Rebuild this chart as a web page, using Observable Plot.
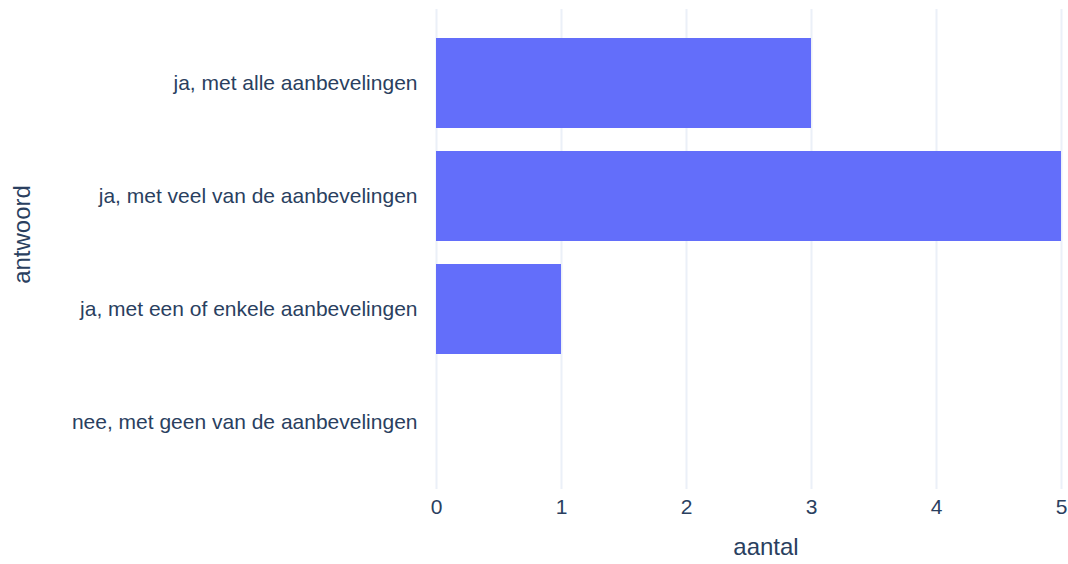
<!DOCTYPE html>
<html>
<head>
<meta charset="utf-8">
<script src="https://cdn.jsdelivr.net/npm/d3@7"></script>
<script src="https://cdn.jsdelivr.net/npm/@observablehq/plot@0.6"></script>
<style>
  html, body { margin: 0; padding: 0; background: #fff; }
</style>
</head>
<body>
<div id="chart"></div>
<script>
const categories = [
  "ja, met alle aanbevelingen",
  "ja, met veel van de aanbevelingen",
  "ja, met een of enkele aanbevelingen",
  "nee, met geen van de aanbevelingen"
];
const counts = [3, 5, 1, 0];
const xTicks = [0, 1, 2, 3, 4, 5];
const xTitle = "aantal";
const yTitle = "antwoord";

const data = categories.map((c, i) => ({answer: c, value: counts[i]}));
const textColor = "#2a3f5f";

const chart = Plot.plot({
  width: 1068,
  height: 564,
  marginLeft: 436,
  marginRight: 7,
  marginTop: 9,
  marginBottom: 75,
  style: {
    fontFamily: "'Liberation Sans', Arial, sans-serif",
    fontSize: "21px",
    color: textColor,
    background: "#fff"
  },
  x: {domain: [0, 5], ticks: xTicks},
  y: {
    type: "band",
    domain: categories,
    paddingInner: 0.2,
    paddingOuter: 0.1,
    insetTop: 17.5,
    insetBottom: 10.5
  },
  marks: [
    Plot.gridX(xTicks, {stroke: "#ebf0f8", strokeOpacity: 1, strokeWidth: 2}),
    Plot.barX(data, {x: "value", y: "answer", fill: "#636efa"}),
    Plot.axisX(xTicks, {tickSize: 0, tickPadding: 10, tickFormat: "d", fontSize: 21, fill: textColor, label: null}),
    Plot.axisY({tickSize: 0, tickPadding: 19, fontSize: 21, fill: textColor, label: null}),
    Plot.text([xTitle], {frameAnchor: "bottom", textAnchor: "middle", dx: 17, dy: 65, fontSize: 24, fill: textColor}),
    Plot.text([yTitle], {frameAnchor: "left", textAnchor: "middle", rotate: -90, dx: -414, dy: -15, fontSize: 24, fill: textColor})
  ]
});
document.getElementById("chart").appendChild(chart);
</script>
</body>
</html>
